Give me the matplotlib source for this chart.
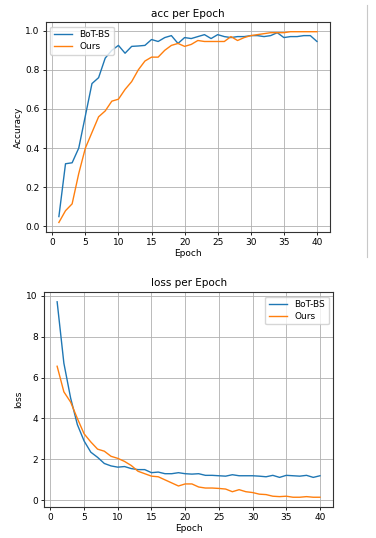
import matplotlib
matplotlib.use("Agg")
import matplotlib.pyplot as plt
from matplotlib.lines import Line2D

epochs = list(range(1, 41))

acc_bot = [0.05, 0.32, 0.325, 0.40, 0.565, 0.73, 0.76, 0.86, 0.90, 0.925,
           0.885, 0.92, 0.922, 0.925, 0.955, 0.945, 0.965, 0.975, 0.935, 0.965,
           0.96, 0.97, 0.98, 0.96, 0.98, 0.97, 0.965, 0.97, 0.97, 0.975,
           0.975, 0.97, 0.975, 0.99, 0.965, 0.97, 0.97, 0.975, 0.975, 0.945]
acc_ours = [0.02, 0.08, 0.115, 0.27, 0.40, 0.48, 0.56, 0.59, 0.64, 0.65,
            0.70, 0.74, 0.80, 0.845, 0.865, 0.865, 0.90, 0.925, 0.935, 0.92,
            0.93, 0.95, 0.945, 0.945, 0.945, 0.945, 0.97, 0.95, 0.965, 0.975,
            0.98, 0.985, 0.99, 0.99, 0.99, 0.995, 0.995, 0.995, 0.995, 0.995]

loss_bot = [9.7, 6.7, 5.0, 3.7, 2.9, 2.35, 2.1, 1.8, 1.68, 1.62,
            1.65, 1.55, 1.5, 1.5, 1.35, 1.38, 1.3, 1.3, 1.35, 1.3,
            1.28, 1.3, 1.22, 1.22, 1.2, 1.18, 1.25, 1.2, 1.2, 1.2,
            1.18, 1.15, 1.22, 1.12, 1.22, 1.2, 1.18, 1.22, 1.12, 1.2]
loss_ours = [6.55, 5.3, 4.8, 4.0, 3.25, 2.85, 2.5, 2.4, 2.15, 2.05,
             1.9, 1.7, 1.42, 1.3, 1.18, 1.15, 1.0, 0.85, 0.7, 0.8,
             0.8, 0.65, 0.6, 0.6, 0.58, 0.55, 0.42, 0.52, 0.42, 0.38,
             0.3, 0.28, 0.2, 0.18, 0.2, 0.15, 0.15, 0.18, 0.15, 0.15]

labels = ["BoT-BS", "Ours"]

plt.rcParams["font.family"] = ["DejaVu Sans"]
fs = 6.5

fig = plt.figure(figsize=(3.76, 5.38), dpi=100)

ax1 = fig.add_axes([0.1223, 0.5688, 0.755, 0.390])
ax1.plot(epochs, acc_bot, color="tab:blue", lw=1.0, label=labels[0])
ax1.plot(epochs, acc_ours, color="tab:orange", lw=1.0, label=labels[1])
ax1.set_title("acc per Epoch", fontsize=7.5, pad=4)
ax1.set_xlabel("Epoch", fontsize=fs, labelpad=1)
ax1.set_ylabel("Accuracy", fontsize=fs, labelpad=2)
ax1.grid(True, color="#b0b0b0", lw=0.6)
ax1.legend(loc="upper left", fontsize=fs, handlelength=2.0, borderpad=0.4,
           labelspacing=0.3)
ax1.set_xticks([0, 5, 10, 15, 20, 25, 30, 35, 40])
ax1.set_yticks([0.0, 0.2, 0.4, 0.6, 0.8, 1.0])

ax2 = fig.add_axes([0.117, 0.0576, 0.769, 0.3996])
ax2.plot(epochs, loss_bot, color="tab:blue", lw=1.0, label=labels[0])
ax2.plot(epochs, loss_ours, color="tab:orange", lw=1.0, label=labels[1])
ax2.set_title("loss per Epoch", fontsize=7.5, pad=4)
ax2.set_xlabel("Epoch", fontsize=fs, labelpad=1)
ax2.set_ylabel("loss", fontsize=fs, labelpad=2)
ax2.grid(True, color="#b0b0b0", lw=0.6)
ax2.legend(loc="upper right", fontsize=fs, handlelength=2.0, borderpad=0.4,
           labelspacing=0.3)
ax2.set_xticks([0, 5, 10, 15, 20, 25, 30, 35, 40])
ax2.set_yticks([0, 2, 4, 6, 8, 10])

for ax in (ax1, ax2):
    ax.tick_params(labelsize=fs, length=2.5, pad=2, width=0.6)
    for s in ax.spines.values():
        s.set_linewidth(0.8)
        s.set_color("#333333")

fig.add_artist(Line2D([367 / 376, 367 / 376], [1 - 5 / 538, 1 - 257 / 538],
                      transform=fig.transFigure, color="#c8c8c8", lw=0.8))

fig.savefig("out.png", dpi=100)
